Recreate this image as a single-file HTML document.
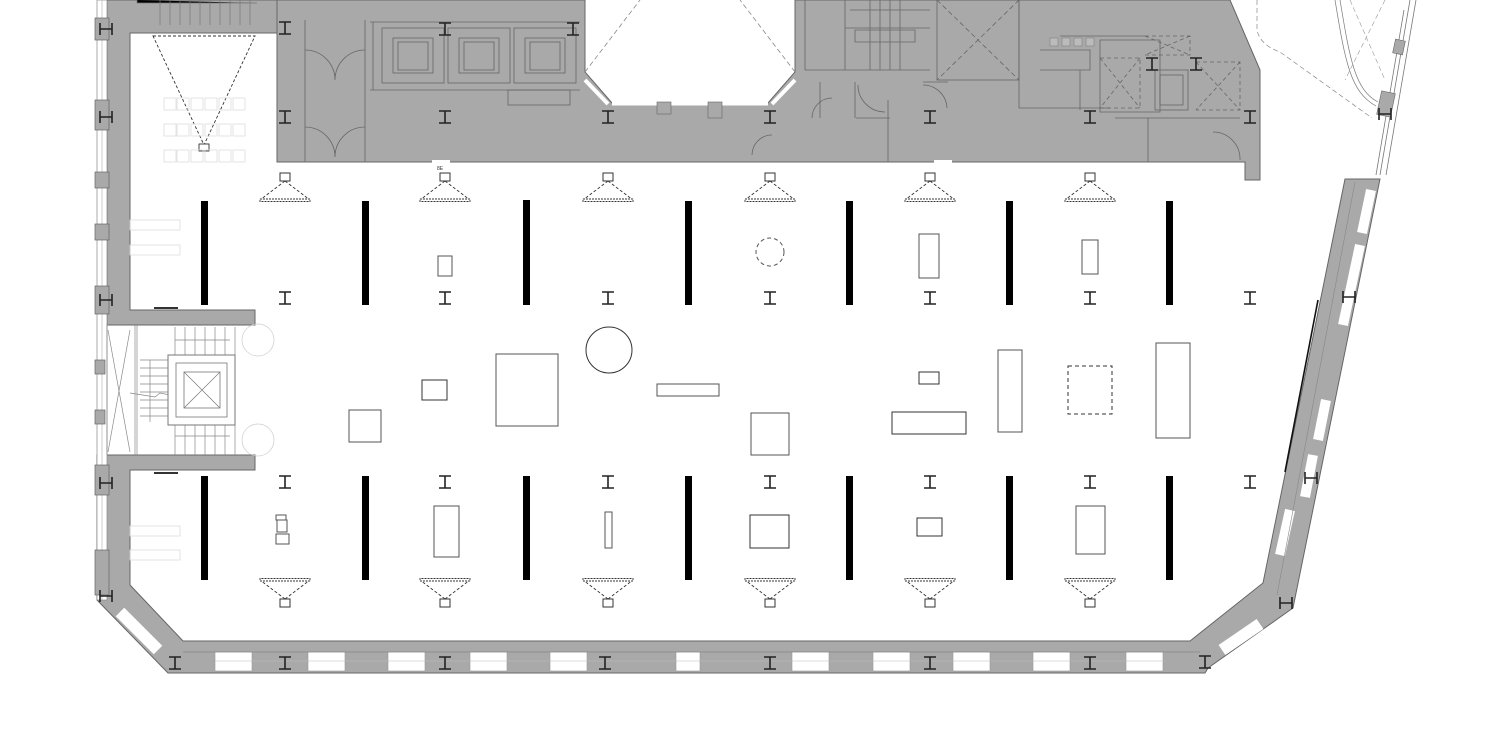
<!DOCTYPE html>
<html><head><meta charset="utf-8"><style>
html,body{margin:0;padding:0;background:#fff;}
svg{display:block;}
</style></head><body>
<svg width="1512" height="745" viewBox="0 0 1512 745" xmlns="http://www.w3.org/2000/svg">
<defs>
<g id="ibeam"><path d="M-6,-6H6M-6,6H6M0,-6V6" stroke="#222" stroke-width="1.6" fill="none"/></g>
<g id="hbeam"><path d="M-6,-6V6M6,-6V6M-6,0H6" stroke="#222" stroke-width="1.6" fill="none"/></g>
<g id="projT">
<rect x="-5" y="-27" width="10" height="8" fill="#fff" stroke="#333" stroke-width="1"/>
<path d="M0,-19 L-25,0 M0,-19 L25,0" stroke="#333" stroke-width="0.9" stroke-dasharray="3,2" fill="none"/>
<rect x="-25" y="-1" width="50" height="2.5" fill="#fff" stroke="#333" stroke-width="0.9" stroke-dasharray="2,1"/>
</g>
</defs>

<path d="M277,0 H585 V72 L612,103 H768 L795,72 V0 H1230 L1260,70 V180 H1245 V162 H277 Z" fill="#a9a9a9" stroke="#666" stroke-width="1"/>
<path d="M612,103 H768" stroke="#fff" stroke-width="5"/>
<path d="M585,80 L608,104 M795,80 L772,104" stroke="#fff" stroke-width="4"/>
<path d="M585,72 L640,0 M795,72 L740,0" stroke="#888" stroke-width="0.8" stroke-dasharray="5,3"/>
<rect x="657" y="102" width="14" height="12" fill="#a9a9a9" stroke="#666" stroke-width="0.6"/>
<rect x="708" y="102" width="14" height="16" fill="#a9a9a9" stroke="#666" stroke-width="0.6"/>

<path d="M107,0 H277 V33 H130 V310 H255 V325 H107 Z" fill="#a9a9a9" stroke="#666" stroke-width="1"/>
<g stroke="#777" stroke-width="0.7">
<path d="M160,0V25 M170,0V25 M180,0V25 M190,0V25 M200,0V25 M210,0V25 M220,0V25 M230,0V25 M240,0V25 M250,0V25 M137,0V3H257"/>
</g>
<path d="M107,455 H255 V470 H130 V585 L183,641 H1190 L1263,583 L1345,179 H1380 L1293,608 L1208,668 L1205,673 H168 L97,600 V455 Z" fill="#a9a9a9" stroke="#666" stroke-width="1"/>
<rect x="97" y="0" width="10" height="600" fill="#fff" stroke="#888" stroke-width="0.7"/>
<path d="M102,0V600" stroke="#aaa" stroke-width="0.6"/>
<g fill="#a9a9a9" stroke="#666" stroke-width="0.7">
<rect x="95" y="18" width="14" height="22"/><rect x="95" y="100" width="14" height="30"/>
<rect x="95" y="172" width="14" height="16"/><rect x="95" y="224" width="14" height="16"/>
<rect x="95" y="286" width="14" height="28"/><rect x="95" y="360" width="10" height="14"/>
<rect x="95" y="410" width="10" height="14"/><rect x="95" y="465" width="14" height="30"/>
<rect x="95" y="550" width="14" height="45"/>
</g>
<use href="#hbeam" x="106" y="29"/><use href="#hbeam" x="106" y="117"/><use href="#hbeam" x="106" y="300"/>
<use href="#hbeam" x="106" y="483"/><use href="#hbeam" x="106" y="596"/>

<g fill="#fff" stroke="#999" stroke-width="0.6">
<rect x="215" y="652" width="37" height="19"/><rect x="308" y="652" width="37" height="19"/>
<rect x="388" y="652" width="37" height="19"/><rect x="470" y="652" width="37" height="19"/>
<rect x="550" y="652" width="37" height="19"/><rect x="676" y="652" width="24" height="19"/>
<rect x="792" y="652" width="37" height="19"/><rect x="873" y="652" width="37" height="19"/>
<rect x="953" y="652" width="37" height="19"/><rect x="1033" y="652" width="37" height="19"/>
<rect x="1126" y="652" width="37" height="19"/>
</g>
<path d="M215,661H1165" stroke="#bbb" stroke-width="0.6"/>
<path d="M183,652H1200" stroke="#777" stroke-width="0.6"/>
<path d="M120,612 L158,650" stroke="#fff" stroke-width="12"/>
<path d="M1222,650 L1260,624" stroke="#fff" stroke-width="12"/>
<g stroke="#fff" stroke-width="10">
<path d="M1371,190 L1362,233 M1360,245 L1343,325 M1326,400 L1318,440 M1313,455 L1305,497 M1290,510 L1280,555"/>
</g>
<path d="M1355,182 L1277,595" stroke="#888" stroke-width="0.6"/>
<path d="M1318,300 L1285,472" stroke="#111" stroke-width="1.6"/>
<path d="M1380,175 L1410,0 M1386,175 L1416,0 M1376,175 L1404,10" stroke="#777" stroke-width="0.8"/>
<rect x="1379" y="92" width="14" height="24" fill="#a9a9a9" stroke="#666" stroke-width="0.6" transform="rotate(12 1386 104)"/>
<rect x="1394" y="40" width="10" height="14" fill="#a9a9a9" stroke="#666" stroke-width="0.6" transform="rotate(12 1399 47)"/>
<path d="M1340,0 C1350,60 1355,90 1378,102 M1335,0 C1345,60 1350,92 1376,106" stroke="#777" stroke-width="0.7" fill="none"/>
<path d="M1257,0 V30 Q1260,45 1280,52 L1372,118" stroke="#888" stroke-width="0.7" stroke-dasharray="5,3" fill="none"/>
<path d="M1350,0 L1385,80 M1385,0 L1345,80" stroke="#999" stroke-width="0.6" stroke-dasharray="5,3"/>
<use href="#hbeam" x="1385" y="114"/><use href="#hbeam" x="1349" y="297"/><use href="#hbeam" x="1311" y="478"/>
<use href="#hbeam" x="1286" y="603"/><use href="#ibeam" x="1205" y="662"/>
<use href="#ibeam" x="175" y="663"/><use href="#ibeam" x="285" y="663"/><use href="#ibeam" x="445" y="663"/>
<use href="#ibeam" x="605" y="663"/><use href="#ibeam" x="770" y="663"/><use href="#ibeam" x="930" y="663"/><use href="#ibeam" x="1090" y="663"/>

<g stroke="#666" stroke-width="0.8" fill="none">
<path d="M305,20V162 M365,20V162 M370,22H580 M370,90H580 M373,22V90"/>
<rect x="382" y="28" width="62" height="55"/><rect x="393" y="38" width="40" height="35"/><rect x="398" y="42" width="30" height="28"/>
<rect x="448" y="28" width="62" height="55"/><rect x="459" y="38" width="40" height="35"/><rect x="464" y="42" width="30" height="28"/>
<rect x="514" y="28" width="62" height="55"/><rect x="525" y="38" width="40" height="35"/><rect x="530" y="42" width="30" height="28"/>
<rect x="508" y="90" width="62" height="15"/>
<path d="M305,50 A30,30 0 0 1 335,80 A30,30 0 0 1 365,50 M305,127 A30,30 0 0 1 335,157 A30,30 0 0 1 365,127"/>
<path d="M805,0V70 M845,0V70 M805,70H930 M850,10H930 M845,28H930 M855,30H915V42H855Z M870,0V70 M880,0V70 M890,0V70 M900,0V70"/>
<rect x="937" y="0" width="82" height="80"/><path d="M937,0L1019,80M1019,0L937,80" stroke-dasharray="5,3"/>
<path d="M1019,0V108H1110 M1060,36H1145 M1100,40H1160V112H1100Z M1040,50H1090V70H1040 M1080,70V110"/>
<rect x="1155" y="70" width="33" height="40"/><rect x="1160" y="75" width="23" height="30"/>
<path d="M1100,58H1140V108H1100 M1100,58L1140,108 M1140,58L1100,108" stroke-dasharray="4,3"/>
<path d="M1196,62H1240V110H1196 M1196,62L1240,110 M1240,62L1196,110" stroke-dasharray="4,3"/>
<path d="M1145,36H1190V55H1145 M1145,36L1190,55 M1190,36L1145,55" stroke-dasharray="4,3"/>
<path d="M1148,118V162 M1115,118H1240 M820,82V118 M855,82V118 M856,118H890 M888,100V162 M923,82H948"/>
<path d="M812,118 A20,20 0 0 1 832,98 M858,85 A27,27 0 0 0 885,112 M923,85 A24,24 0 0 1 947,108 M752,155 A20,20 0 0 1 772,135 M1213,132 A27,27 0 0 1 1240,160"/>
</g>
<g fill="#bbb" stroke="#777" stroke-width="0.5">
<rect x="1050" y="38" width="8" height="8"/><rect x="1062" y="38" width="8" height="8"/><rect x="1074" y="38" width="8" height="8"/><rect x="1086" y="38" width="8" height="8"/>
</g>
<use href="#ibeam" x="285" y="28"/><use href="#ibeam" x="285" y="117"/><use href="#ibeam" x="445" y="29"/><use href="#ibeam" x="445" y="117"/>
<use href="#ibeam" x="573" y="29"/><use href="#ibeam" x="608" y="117"/><use href="#ibeam" x="770" y="117"/><use href="#ibeam" x="930" y="117"/>
<use href="#ibeam" x="1090" y="117"/><use href="#ibeam" x="1152" y="64"/><use href="#ibeam" x="1196" y="64"/><use href="#ibeam" x="1250" y="117"/>
<rect x="432" y="160" width="18" height="4" fill="#fff"/><rect x="934" y="160" width="18" height="4" fill="#fff"/>
<text x="437" y="170" font-family="Liberation Sans, sans-serif" font-size="5" fill="#333">8E</text>

<path d="M153,36 H255 L204,145 Z" fill="none" stroke="#333" stroke-width="0.9" stroke-dasharray="3,2"/>
<rect x="199" y="144" width="10" height="7" fill="#fff" stroke="#333" stroke-width="0.9"/>
<g fill="none" stroke="#ddd" stroke-width="0.8">
<rect x="164" y="98" width="12" height="12"/><rect x="177" y="98" width="12" height="12"/><rect x="191" y="98" width="12" height="12"/><rect x="205" y="98" width="12" height="12"/><rect x="219" y="98" width="12" height="12"/><rect x="233" y="98" width="12" height="12"/>
<rect x="164" y="124" width="12" height="12"/><rect x="177" y="124" width="12" height="12"/><rect x="191" y="124" width="12" height="12"/><rect x="205" y="124" width="12" height="12"/><rect x="219" y="124" width="12" height="12"/><rect x="233" y="124" width="12" height="12"/>
<rect x="164" y="150" width="12" height="12"/><rect x="177" y="150" width="12" height="12"/><rect x="191" y="150" width="12" height="12"/><rect x="205" y="150" width="12" height="12"/><rect x="219" y="150" width="12" height="12"/><rect x="233" y="150" width="12" height="12"/>
<rect x="130" y="220" width="50" height="10"/><rect x="130" y="245" width="50" height="10"/>
<rect x="130" y="526" width="50" height="10"/><rect x="130" y="550" width="50" height="10"/>
</g>
<rect x="154" y="307" width="24" height="2" fill="#333"/>
<rect x="154" y="472" width="24" height="2" fill="#333"/>

<g stroke="#888" stroke-width="0.7" fill="none">
<path d="M137,325V455 M135,325V455 M108,330L130,452 M130,330L108,452 M107,325V455"/>
<path d="M175,327V355 M185,327V355 M195,327V355 M205,327V355 M215,327V355 M225,327V355 M235,327V355 M175,340H230"/>
<path d="M175,425V455 M185,425V455 M195,425V455 M205,425V455 M215,425V455 M225,425V455 M235,425V455 M175,436H230"/>
<path d="M140,360H168 M140,368H168 M140,376H168 M140,384H168 M140,392H168 M140,400H168 M140,408H168 M140,416H168 M150,360V422"/>
<path d="M130,393 L155,397 L160,393 L175,396"/>
<circle cx="258" cy="340" r="16" stroke="#ccc"/><circle cx="258" cy="440" r="16" stroke="#ccc"/>
</g>
<rect x="168" y="355" width="67" height="70" fill="#fff" stroke="#777" stroke-width="1"/>
<rect x="176" y="363" width="51" height="54" fill="none" stroke="#777" stroke-width="0.8"/>
<rect x="184" y="372" width="36" height="36" fill="none" stroke="#777" stroke-width="0.8"/>
<path d="M184,372L220,408M220,372L184,408" stroke="#777" stroke-width="0.7"/>

<g fill="#000">
<rect x="201" y="201" width="7" height="104"/><rect x="362" y="201" width="7" height="104"/><rect x="523" y="200" width="7" height="105"/>
<rect x="685" y="201" width="7" height="104"/><rect x="846" y="201" width="7" height="104"/><rect x="1006" y="201" width="7" height="104"/><rect x="1166" y="201" width="7" height="104"/>
<rect x="201" y="476" width="7" height="104"/><rect x="362" y="476" width="7" height="104"/><rect x="523" y="476" width="7" height="104"/>
<rect x="685" y="476" width="7" height="104"/><rect x="846" y="476" width="7" height="104"/><rect x="1006" y="476" width="7" height="104"/><rect x="1166" y="476" width="7" height="104"/>
</g>
<use href="#ibeam" x="285" y="298"/><use href="#ibeam" x="445" y="298"/><use href="#ibeam" x="608" y="298"/><use href="#ibeam" x="770" y="298"/>
<use href="#ibeam" x="930" y="298"/><use href="#ibeam" x="1090" y="298"/><use href="#ibeam" x="1250" y="298"/>
<use href="#ibeam" x="285" y="482"/><use href="#ibeam" x="445" y="482"/><use href="#ibeam" x="608" y="482"/><use href="#ibeam" x="770" y="482"/>
<use href="#ibeam" x="930" y="482"/><use href="#ibeam" x="1090" y="482"/><use href="#ibeam" x="1250" y="482"/>
<g transform="translate(0,200)"><use href="#projT" x="285"/><use href="#projT" x="445"/><use href="#projT" x="608"/><use href="#projT" x="770"/><use href="#projT" x="930"/><use href="#projT" x="1090"/></g>
<g transform="translate(0,580) scale(1,-1)"><use href="#projT" x="285"/><use href="#projT" x="445"/><use href="#projT" x="608"/><use href="#projT" x="770"/><use href="#projT" x="930"/><use href="#projT" x="1090"/></g>

<g fill="none" stroke="#555" stroke-width="1">
<rect x="438" y="256" width="14" height="20"/>
<circle cx="770" cy="252" r="14" stroke-dasharray="4,3"/>
<rect x="919" y="234" width="20" height="44"/>
<rect x="1082" y="240" width="16" height="34"/>
<rect x="349" y="410" width="32" height="32"/>
<rect x="422" y="380" width="25" height="20" stroke="#333"/>
<rect x="496" y="354" width="62" height="72"/>
<circle cx="609" cy="350" r="23" stroke="#333"/>
<rect x="657" y="384" width="62" height="12"/>
<rect x="751" y="413" width="38" height="42"/>
<rect x="919" y="372" width="20" height="12" stroke="#333"/>
<rect x="892" y="412" width="74" height="22" stroke="#333"/>
<rect x="998" y="350" width="24" height="82"/>
<rect x="1068" y="366" width="44" height="48" stroke-dasharray="4,3" stroke="#333"/>
<rect x="1156" y="343" width="34" height="95"/>
<rect x="276" y="515" width="10" height="5"/><rect x="277" y="520" width="10" height="12"/><rect x="276" y="534" width="13" height="10"/>
<rect x="434" y="506" width="25" height="51"/>
<rect x="605" y="512" width="7" height="36"/>
<rect x="750" y="515" width="39" height="33" stroke="#333"/>
<rect x="917" y="518" width="25" height="18" stroke="#333"/>
<rect x="1076" y="506" width="29" height="48"/>
</g>
</svg>
</body></html>
